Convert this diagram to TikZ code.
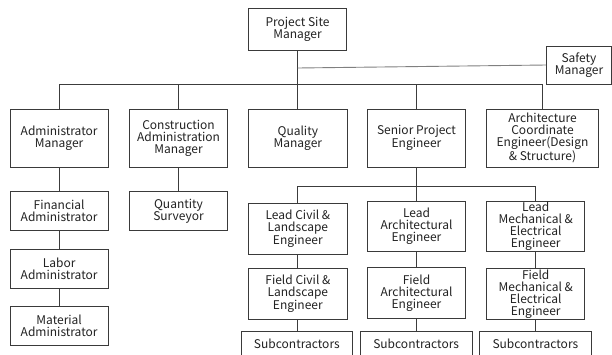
\documentclass[tikz,border=0pt]{standalone}
\usepackage{fontspec}
\setmainfont{Noto Sans CJK KR}
\begin{document}
\begin{tikzpicture}[x=1pt,y=-1pt,
  box/.style={draw=boxgray,line width=0.9pt,inner sep=0pt,align=center,
    text=txtgray,font=\fontsize{12}{12}\selectfont},
  link/.style={draw=linegray,line width=0.9pt},
  softlink/.style={draw=softgray,line width=0.9pt}]
\definecolor{boxgray}{HTML}{3A3A3A}
\definecolor{linegray}{HTML}{3C3C3C}
\definecolor{softgray}{HTML}{808080}
\definecolor{txtgray}{HTML}{222222}
\clip (0,0) rectangle (612,354);
\fill[white] (0,0) rectangle (612,354);

% top management
\node[box,minimum width=98pt,minimum height=42pt] (psm) at (297.5,29.5) {Project Site\\Manager};
\node[box,minimum width=65pt,minimum height=38pt] (safety) at (579,65) {Safety\\Manager};

% department heads
\node[box,minimum width=98.3pt,minimum height=58pt] (am)  at (59.15,138) {Administrator\\Manager};
\node[box,minimum width=98.4pt,minimum height=58pt] (cam) at (178.5,138) {Construction\\Administration\\Manager};
\node[box,minimum width=98.3pt,minimum height=58pt] (qm)  at (297.85,138) {Quality\\Manager};
\node[box,minimum width=97.6pt,minimum height=58pt] (spe) at (416.5,138) {Senior Project\\Engineer};
\node[box,minimum width=111.6pt,minimum height=58pt] (ace) at (542.5,138) {Architecture\\Coordinate\\Engineer(Design\\\& Structure)};

% administration branch
\node[box,minimum width=98.3pt,minimum height=39pt] (fa) at (59.15,211.2) {Financial\\Administrator};
\node[box,minimum width=98.3pt,minimum height=39pt] (la) at (59.15,268.8) {Labor\\Administrator};
\node[box,minimum width=98.3pt,minimum height=39pt] (ma) at (59.15,325.5) {Material\\Administrator};
\node[box,minimum width=98.4pt,minimum height=39pt] (qs) at (178.5,211.2) {Quantity\\Surveyor};

% engineering branch
\node[box,minimum width=98.3pt,minimum height=50.7pt] (lcl) at (297.85,228.65) {Lead Civil \&\\Landscape\\Engineer};
\node[box,minimum width=97.6pt,minimum height=50pt] (lar) at (416.5,226.7) {Lead\\Architectural\\Engineer};
\node[box,minimum width=98pt,minimum height=50pt] (lme) at (535.7,226.7) {Lead\\Mechanical \&\\Electrical\\Engineer};
\node[box,minimum width=98.3pt,minimum height=51pt] (fcl) at (297.85,293.8) {Field Civil \&\\Landscape\\Engineer};
\node[box,minimum width=97.6pt,minimum height=51pt] (far) at (416.5,292.8) {Field\\Architectural\\Engineer};
\node[box,minimum width=98pt,minimum height=51pt] (fme) at (535.7,293.8) {Field\\Mechanical \&\\Electrical\\Engineer};
\node[box,minimum width=111.7pt,minimum height=25pt] (sub1) at (296.85,343.5) {Subcontractors};
\node[box,minimum width=111.7pt,minimum height=25pt] (sub2) at (416.15,343.5) {Subcontractors};
\node[box,minimum width=112.7pt,minimum height=25pt] (sub3) at (535.35,343.5) {Subcontractors};

% main bus
\coordinate (bus) at (0,84.3);
\coordinate (sj) at (0,68);
\coordinate (sb) at (0,186);
\draw[link] (psm.south) -- (psm.south |- qm.north);
\draw[softlink] (psm.south |- sj) -- (safety.west);
\draw[link] (am.north) -- (am.north |- bus) -- (ace.north |- bus) -- (ace.north);
\draw[link] (cam.north) -- (cam.north |- bus);
\draw[link] (spe.north) -- (spe.north |- bus);

% administration chain
\draw[link] (am.south) -- (fa.north);
\draw[link] (fa.south) -- (la.north);
\draw[link] (la.south) -- (ma.north);
\draw[link] (cam.south) -- (qs.north);

% engineering sub-bus
\draw[link] (spe.south) -- (spe.south |- sb);
\draw[link] (lcl.north) -- (lcl.north |- sb) -- (lme.north |- sb) -- (lme.north);
\draw[link] (lar.north) -- (lar.north |- sb);
\draw[link] (lcl.south) -- (fcl.north);
\draw[link] (lar.south) -- (far.north);
\draw[link] (lme.south) -- (fme.north);
\draw[link] (fcl.south) -- (fcl.south |- sub1.north);
\draw[link] (far.south) -- (far.south |- sub2.north);
\draw[link] (fme.south) -- (fme.south |- sub3.north);
\end{tikzpicture}
\end{document}
